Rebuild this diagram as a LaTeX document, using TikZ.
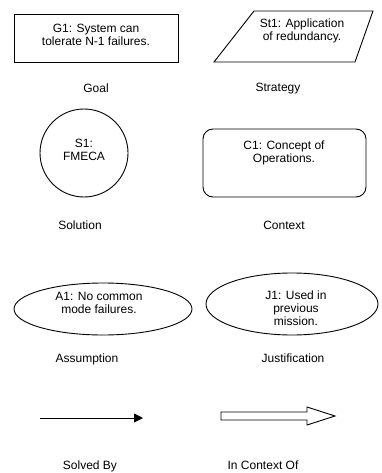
\documentclass[tikz,border=0pt]{standalone}
\usepackage{fontspec}
\setmainfont{Liberation Sans}
\usetikzlibrary{arrows.meta}
\begin{document}
\begin{tikzpicture}[x=1pt,y=-1pt, line width=0.9pt,
 txt/.style={font=\fontsize{12}{13}\selectfont, align=center, inner sep=0pt},
 lbl/.style={font=\fontsize{12}{13}\selectfont, inner sep=0pt, anchor=base}]
\useasboundingbox (0,0) rectangle (382,473);
% Goal
\draw (14,14) rectangle (178,62);
\node[txt] (g1) at (96,35) {G1: System can\\tolerate N-1 failures.};
\node[lbl] (goal) at (96,93) {Goal};
% Strategy
\draw (254,11) -- (373,11) -- (355,62) -- (214,62) -- cycle;
\node[txt] (st1) at (302,31) {St1: Application\\of redundancy.};
\node[lbl] (strategy) at (278,92) {Strategy};
% Solution
\draw (84,153) circle (44);
\node[txt] (s1) at (84,150) {S1:\\FMECA};
\node[lbl] (solution) at (80,229) {Solution};
% Context
\draw[rounded corners=10] (203,129) rectangle (366,197);
\node[txt] (c1) at (284,153) {C1: Concept of\\Operations.};
\node[lbl] (context) at (284,229) {Context};
% Assumption
\draw (103,309) ellipse (89 and 26);
\node[txt] (a1) at (99,303) {A1: No common\\mode failures.};
\node[lbl] (assumption) at (87,362) {Assumption};
% Justification
\draw (292,304) ellipse (86 and 31);
\node[txt] (j1) at (296,308) {J1: Used in\\previous\\mission.};
\node[lbl] (justification) at (293,362) {Justification};
% Solved by
\coordinate (sbA) at (40,418);
\coordinate (sbB) at (143,418);
\draw[-{Triangle[length=9pt,width=9pt]}] (sbA) -- (sbB);
\node[lbl] (solvedby) at (90,469) {Solved By};
% In context of
\draw (221,412) -- (307,412) -- (307,407) -- (335,416) -- (307,425) -- (307,420) -- (221,420) -- cycle;
\node[lbl] (incontext) at (263,469) {In Context Of};
\end{tikzpicture}
\end{document}
